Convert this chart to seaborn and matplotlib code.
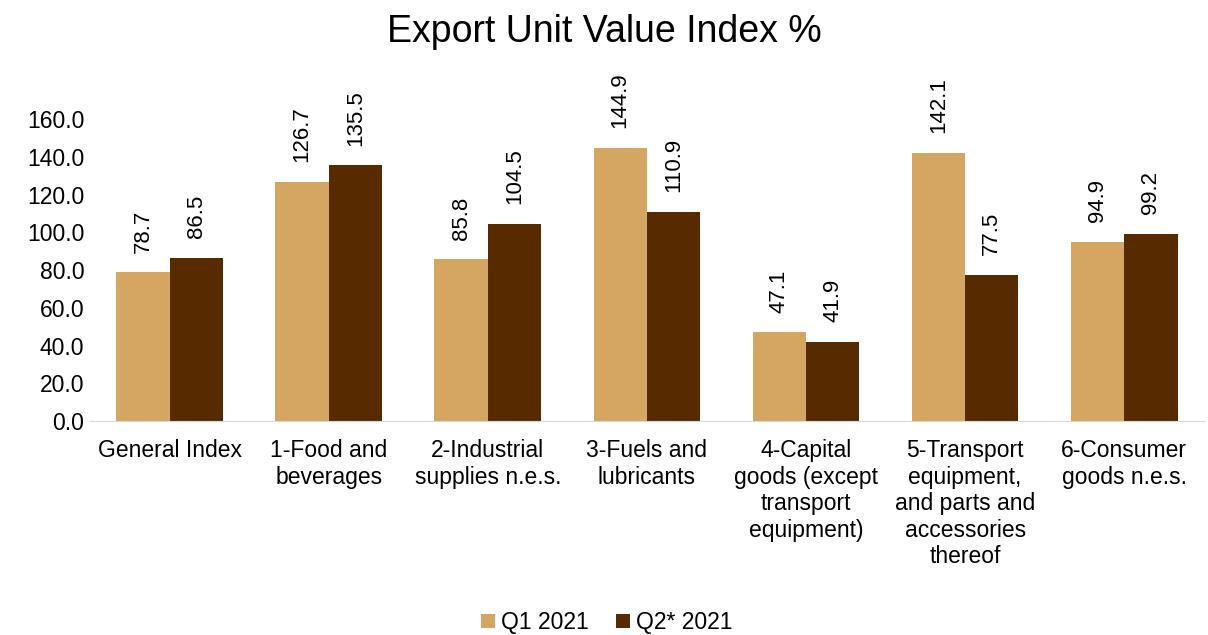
import pandas as pd
import matplotlib.pyplot as plt
import seaborn as sns

# datos
categorias = ['General Index', '1-Food and\nbeverages', '2-Industrial\nsupplies n.e.s.',
              '3-Fuels and\nlubricants', '4-Capital\ngoods (except\ntransport\nequipment)',
              '5-Transport\nequipment,\nand parts and\naccessories\nthereof',
              '6-Consumer\ngoods n.e.s.']
q1 = [78.7, 126.7, 85.8, 144.9, 47.1, 142.1, 94.9]
q2 = [86.5, 135.5, 104.5, 110.9, 41.9, 77.5, 99.2]
series = ['Q1 2021', 'Q2* 2021']
colores = ['#D5A562', '#582A00']

df = pd.DataFrame({'cat': categorias * 2,
                   'serie': [series[0]] * len(q1) + [series[1]] * len(q2),
                   'valor': q1 + q2})

sns.set_style('white')
plt.rcParams['font.family'] = ['Liberation Sans', 'DejaVu Sans']
plt.rcParams['text.color'] = 'black'
plt.rcParams['xtick.color'] = 'black'
plt.rcParams['ytick.color'] = 'black'

fig = plt.figure(figsize=(12.08, 6.35), dpi=100)
ax = fig.add_axes([0.0745, 0.337, 0.922, 0.535])

sns.barplot(data=df, x='cat', y='valor', hue='serie', palette=colores,
            width=0.67, ax=ax, saturation=1, linewidth=0)

for cont in ax.containers:
    ax.bar_label(cont, fmt='%.1f', rotation=90, padding=14, fontsize=16, clip_on=False)

ax.set_ylim(0, 180)
ax.set_yticks(range(0, 161, 20))
ax.set_yticklabels([f'{v:.1f}' for v in range(0, 161, 20)], fontsize=16.5)
ax.tick_params(axis='x', labelsize=16.5, length=0, pad=13)
ax.tick_params(axis='y', length=0, pad=4)
ax.set_xlabel('')
ax.set_ylabel('')
ax.set_xlim(-0.5, len(categorias) - 0.5)

for s in ['top', 'right', 'left']:
    ax.spines[s].set_visible(False)
ax.spines['bottom'].set_color('#D9D9D9')

ax.legend(title=None, loc='center', bbox_to_anchor=(0.464, -0.594), ncol=2,
          frameon=False, fontsize=16.5, handlelength=0.6, handleheight=0.6,
          handletextpad=0.25, columnspacing=1.2)

fig.suptitle('Export Unit Value Index %', fontsize=27, y=0.978)

plt.savefig('out.png', dpi=100)
